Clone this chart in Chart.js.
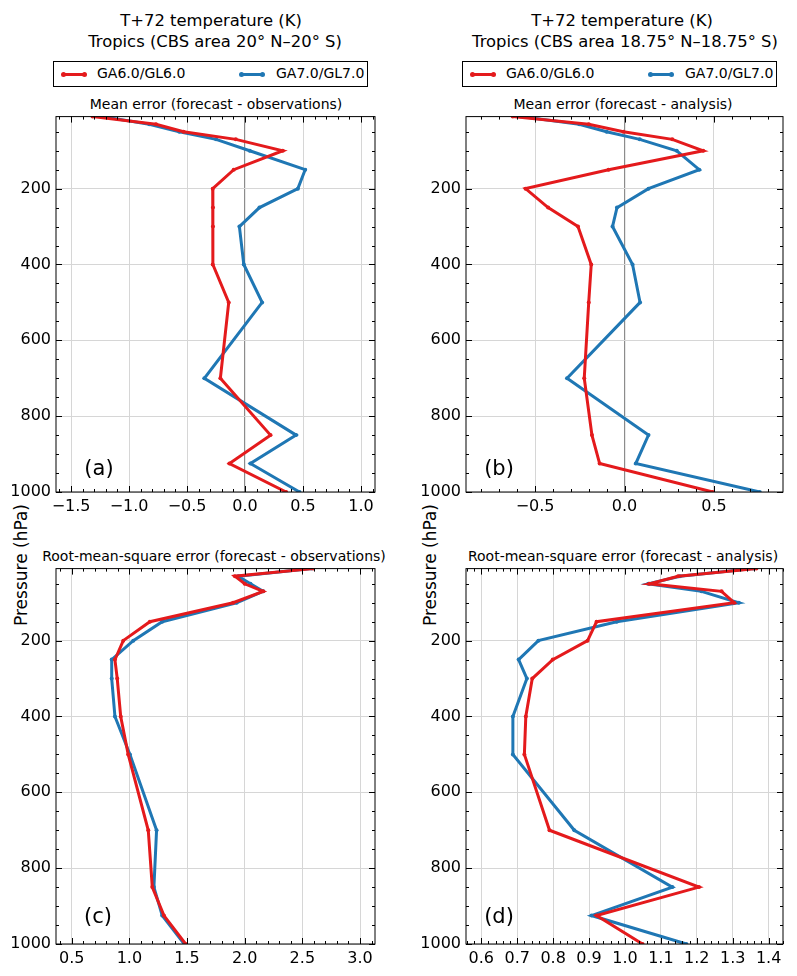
<!DOCTYPE html>
<html>
<head>
<meta charset="utf-8">
<script src="https://cdn.jsdelivr.net/npm/chart.js@4.4.1/dist/chart.umd.min.js"></script>
<style>
  body { margin: 0; width: 797px; height: 976px; background: #fff; position: relative; overflow: hidden;
         font-family: "DejaVu Sans", sans-serif; color: #000; }
  .txt { position: absolute; white-space: nowrap; transform: translate(-50%, -50%); }
  .title { font-size: 16.4px; }
  .sub { font-size: 14px; }
  .lab { font-size: 21px; }
  .ylab { font-size: 17px; transform: translate(-50%, -50%) rotate(-90deg); }
  .panel { position: absolute; }
  .legend { position: absolute; box-sizing: border-box; border: 1px solid #000; width: 315px; height: 26px; font-size: 14px; }
  .legend .s { position: absolute; top: 11px; width: 22px; height: 3px; }
  .legend .s::before, .legend .s::after { content: ''; position: absolute; top: -1px; width: 5px; height: 5px; border-radius: 50%; background: inherit; }
  .legend .s::before { left: -2px; }
  .legend .s::after { right: -2px; }
  .legend .t { position: absolute; top: 3px; }
</style>
</head>
<body>

<div class="txt title" style="left:211px; top:20px;">T+72 temperature (K)</div>
<div class="txt title" style="left:215px; top:41px;">Tropics (CBS area 20° N–20° S)</div>
<div class="txt title" style="left:622px; top:20px;">T+72 temperature (K)</div>
<div class="txt title" style="left:625px; top:41px;">Tropics (CBS area 18.75° N–18.75° S)</div>

<div class="legend" style="left:53px; top:61px;">
  <div class="s" style="left:9px; background:#e41a1c;"></div><div class="t" style="left:43px;">GA6.0/GL6.0</div>
  <div class="s" style="left:187px; background:#1f77b4;"></div><div class="t" style="left:222px;">GA7.0/GL7.0</div>
</div>
<div class="legend" style="left:462px; top:61px;">
  <div class="s" style="left:9px; background:#e41a1c;"></div><div class="t" style="left:43px;">GA6.0/GL6.0</div>
  <div class="s" style="left:187px; background:#1f77b4;"></div><div class="t" style="left:222px;">GA7.0/GL7.0</div>
</div>

<div class="txt sub" style="left:216px; top:104px;">Mean error (forecast - observations)</div>
<div class="txt sub" style="left:623px; top:104px;">Mean error (forecast - analysis)</div>
<div class="txt sub" style="left:214px; top:556px;">Root-mean-square error (forecast - observations)</div>
<div class="txt sub" style="left:623px; top:556px;">Root-mean-square error (forecast - analysis)</div>

<div class="txt ylab" style="left:21px; top:565px;">Pressure (hPa)</div>
<div class="txt ylab" style="left:430px; top:565px;">Pressure (hPa)</div>

<div class="panel" style="left:0px; top:102px;"><canvas id="cA" width="390" height="420"></canvas></div>
<div class="panel" style="left:410px; top:102px;"><canvas id="cB" width="387" height="420"></canvas></div>
<div class="panel" style="left:0px; top:554px;"><canvas id="cC" width="390" height="420"></canvas></div>
<div class="panel" style="left:410px; top:554px;"><canvas id="cD" width="387" height="420"></canvas></div>

<div class="txt lab" style="left:99px; top:468px;">(a)</div>
<div class="txt lab" style="left:499px; top:468px;">(b)</div>
<div class="txt lab" style="left:98px; top:916px;">(c)</div>
<div class="txt lab" style="left:499px; top:916px;">(d)</div>

<script>
// pressure levels (hPa)
const pressure = [10, 30, 50, 70, 100, 150, 200, 250, 300, 400, 500, 700, 850, 925, 1000];
const yTicks = [200, 400, 600, 800, 1000];

// mean error vs observations
const meObsGA6 = [-1.315, -0.768, -0.53, -0.08, 0.325, -0.098, -0.279, -0.277, -0.277, -0.279, -0.141, -0.213, 0.219, -0.135, 0.354];
const meObsGA7 = [-1.23, -0.826, -0.567, -0.25, 0.04, 0.518, 0.455, 0.124, -0.049, -0.011, 0.147, -0.351, 0.44, 0.046, 0.469];
// mean error vs analysis
const meAnaGA6 = [-0.625, -0.2, -0.006, 0.267, 0.44, -0.089, -0.553, -0.427, -0.26, -0.186, -0.2, -0.225, -0.182, -0.139, 0.493];
const meAnaGA7 = [-0.58, -0.253, -0.1, 0.085, 0.292, 0.418, 0.134, -0.042, -0.067, 0.045, 0.087, -0.321, 0.134, 0.063, 0.756];
// rms error vs observations
const rmsObsGA6 = [2.594, 1.915, 2.0, 2.16, 1.9, 1.178, 0.947, 0.875, 0.895, 0.925, 0.99, 1.164, 1.199, 1.3, 1.488];
const rmsObsGA7 = [2.58, 1.944, 2.05, 2.16, 1.93, 1.285, 1.034, 0.847, 0.847, 0.875, 1.005, 1.236, 1.213, 1.285, 1.476];
// rms error vs analysis
const rmsAnaGA6 = [1.366, 1.148, 1.068, 1.269, 1.304, 0.921, 0.896, 0.799, 0.742, 0.724, 0.72, 0.79, 1.206, 0.921, 1.049];
const rmsAnaGA7 = [1.357, 1.153, 1.065, 1.213, 1.317, 0.977, 0.759, 0.704, 0.727, 0.688, 0.688, 0.859, 1.132, 0.907, 1.171];

const xTicksA = [-1.5, -1.0, -0.5, 0.0, 0.5, 1.0];
const xTicksB = [-0.5, 0.0, 0.5];
const xTicksC = [0.5, 1.0, 1.5, 2.0, 2.5, 3.0];
const xTicksD = [0.6, 0.7, 0.8, 0.9, 1.0, 1.1, 1.2, 1.3, 1.4];

const RED = '#e41a1c';
const BLUE = '#1f77b4';
const FONT = 'DejaVu Sans';

function fmt(v) {
  if (Math.abs(v) < 1e-9) return '0.0';
  return (v < 0 ? '\u2212' : '') + Math.abs(v).toFixed(1);
}

// box round the plot, ticks pointing inward on all four sides
const framePlugin = {
  id: 'frame',
  afterDatasetsDraw(chart, args, opts) {
    const { ctx, chartArea: a, scales: { x, y } } = chart;
    ctx.save();
    ctx.strokeStyle = '#000';
    ctx.lineWidth = 1;
    ctx.beginPath();
    const vt = (px, len) => {
      ctx.moveTo(px, a.bottom); ctx.lineTo(px, a.bottom - len);
      ctx.moveTo(px, a.top); ctx.lineTo(px, a.top + len);
    };
    const ht = (py, len) => {
      ctx.moveTo(a.left, py); ctx.lineTo(a.left + len, py);
      ctx.moveTo(a.right, py); ctx.lineTo(a.right - len, py);
    };
    const k0 = Math.ceil(x.min / opts.xMinor - 1e-6), k1 = Math.floor(x.max / opts.xMinor + 1e-6);
    for (let k = k0; k <= k1; k++) vt(Math.round(x.getPixelForValue(k * opts.xMinor)) + 0.5, 3);
    opts.xMajor.forEach(v => vt(Math.round(x.getPixelForValue(v)) + 0.5, 6));
    for (let p = 50; p <= 1000; p += 50) ht(Math.round(y.getPixelForValue(p)) + 0.5, 3);
    yTicks.forEach(p => ht(Math.round(y.getPixelForValue(p)) + 0.5, 6));
    ctx.stroke();
    ctx.strokeRect(a.left, a.top, a.right - a.left, a.bottom - a.top);
    ctx.restore();
  }
};

function makePanel(id, red, blue, xmin, xmax, xTicks, xMinor, zeroLine, yWidth) {
  const series = (vals, color) => ({
    data: pressure.map((p, i) => ({ x: vals[i], y: p })),
    showLine: true,
    borderColor: color,
    backgroundColor: color,
    borderWidth: 3,
    pointRadius: 2,
    pointBorderWidth: 0,
    pointBackgroundColor: color
  });
  new Chart(document.getElementById(id), {
    type: 'scatter',
    data: { datasets: [series(red, RED), series(blue, BLUE)] },
    options: {
      responsive: false,
      animation: false,
      layout: { padding: { top: 6, right: id === 'cA' || id === 'cC' ? 15 : 14, left: 0, bottom: 0 } },
      plugins: { legend: { display: false }, tooltip: { enabled: false }, frame: { xMajor: xTicks, xMinor: xMinor } },
      scales: {
        x: {
          type: 'linear', min: xmin, max: xmax,
          afterBuildTicks: s => { s.ticks = xTicks.map(v => ({ value: v })); },
          afterFit: s => { s.height = 30; },
          ticks: { callback: v => fmt(v), color: '#000', font: { family: FONT, size: 16 }, padding: 5, autoSkip: false, maxRotation: 0 },
          grid: {
            drawTicks: false,
            color: c => (zeroLine && c.tick && Math.abs(c.tick.value) < 1e-9) ? '#8c8c8c' : '#d6d6d6',
            lineWidth: c => (zeroLine && c.tick && Math.abs(c.tick.value) < 1e-9) ? 1.2 : 1
          },
          border: { display: false }
        },
        y: {
          type: 'linear', reverse: true, min: 10, max: 1000,
          afterBuildTicks: s => { s.ticks = yTicks.map(v => ({ value: v })); },
          afterFit: s => { s.width = yWidth; },
          ticks: { callback: v => String(v), color: '#000', font: { family: FONT, size: 16 }, padding: 5, autoSkip: false },
          grid: { drawTicks: false, color: '#d6d6d6' },
          border: { display: false }
        }
      }
    },
    plugins: [framePlugin]
  });
}

makePanel('cA', meObsGA6, meObsGA7, -1.63, 1.12, xTicksA, 0.1, true, 56);
makePanel('cB', meAnaGA6, meAnaGA7, -0.886, 0.886, xTicksB, 0.1, true, 56);
makePanel('cC', rmsObsGA6, rmsObsGA7, 0.364, 3.13, xTicksC, 0.1, false, 56);
makePanel('cD', rmsAnaGA6, rmsAnaGA7, 0.5575, 1.44, xTicksD, 0.02, false, 56);
</script>
</body>
</html>
